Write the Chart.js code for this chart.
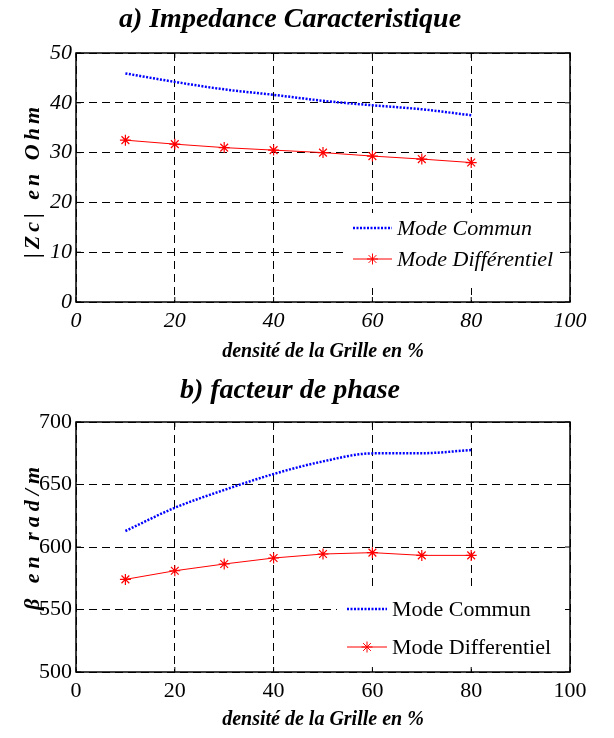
<!DOCTYPE html>
<html>
<head>
<meta charset="utf-8">
<script src="https://cdn.jsdelivr.net/npm/chart.js@4/dist/chart.umd.min.js"></script>
<style>
  body { margin: 0; background: #fff; }
  .box { position: absolute; left: 0; width: 614px; height: 369px; }
</style>
</head>
<body>
<div class="box" style="top:0"><canvas id="chartZc" width="614" height="369"></canvas></div>
<div class="box" style="top:369px"><canvas id="chartBeta" width="614" height="369"></canvas></div>
<script>
const densite = [10, 20, 30, 40, 50, 60, 70, 80];
const zcCommun = [45.9, 44.2, 42.7, 41.6, 40.4, 39.5, 38.7, 37.5];
const zcDiff = [32.5, 31.7, 31.0, 30.5, 30.0, 29.3, 28.7, 28.0];
const betaCommun = [612.8, 631.4, 645.6, 658.4, 668.5, 674.9, 675.0, 677.6];
const betaDiff = [574.1, 581.0, 586.4, 591.2, 594.4, 595.5, 593.3, 593.3];
const xTicks = [0, 20, 40, 60, 80, 100];
const zcTicks = [0, 10, 20, 30, 40, 50];
const betaTicks = [500, 550, 600, 650, 700];

const serif = "'Liberation Serif', 'Times New Roman', serif";

const toPoints = (ys) => densite.map((x, i) => ({ x: x, y: ys[i] }));

// frame, inward ticks, legend and rotated y label
const framePlugin = {
  id: 'frame',
  afterDraw(chart, args, opts) {
    const { ctx, chartArea: a, scales } = chart;
    const g = opts.legend;
    ctx.save();
    // legend
    ctx.fillStyle = '#fff';
    ctx.fillRect(a.right - g.boxL, a.bottom - g.boxT, g.boxL - g.boxR, g.boxT - g.boxB);
    chart.data.datasets.forEach((ds, i) => {
      const y = a.bottom - g.rows[i];
      const x0 = a.right - g.sampleL, x1 = a.right - g.sampleR;
      ctx.save();
      ctx.strokeStyle = ds.borderColor;
      ctx.lineWidth = ds.borderWidth;
      ctx.setLineDash(ds.borderDash || []);
      ctx.beginPath();
      ctx.moveTo(x0, y);
      ctx.lineTo(x1, y);
      ctx.stroke();
      ctx.restore();
      if (ds.pointRadius) {
        ctx.strokeStyle = ds.borderColor;
        ctx.fillStyle = ds.borderColor;
        ctx.lineWidth = 1;
        Chart.helpers.drawPoint(ctx, { pointStyle: ds.pointStyle, radius: ds.pointRadius, rotation: 0, borderWidth: 1 }, (x0 + x1) / 2, y);
      }
      ctx.fillStyle = '#000';
      ctx.font = g.font;
      ctx.textBaseline = 'middle';
      ctx.textAlign = 'left';
      ctx.fillText(ds.label, a.right - g.textX, y + 1);
    });
    // frame
    ctx.strokeStyle = '#000';
    ctx.lineWidth = 1.5;
    ctx.strokeRect(a.left, a.top, a.right - a.left, a.bottom - a.top);
    ctx.lineWidth = 1;
    scales.x.ticks.forEach(t => {
      const px = scales.x.getPixelForValue(t.value);
      ctx.beginPath();
      ctx.moveTo(px, a.bottom); ctx.lineTo(px, a.bottom - 5);
      ctx.moveTo(px, a.top); ctx.lineTo(px, a.top + 5);
      ctx.stroke();
    });
    scales.y.ticks.forEach(t => {
      const py = scales.y.getPixelForValue(t.value);
      ctx.beginPath();
      ctx.moveTo(a.left, py); ctx.lineTo(a.left + 5, py);
      ctx.moveTo(a.right, py); ctx.lineTo(a.right - 5, py);
      ctx.stroke();
    });
    // y axis label
    ctx.translate(opts.yLabelX, (a.top + a.bottom) / 2 + opts.yLabelShift);
    ctx.rotate(-Math.PI / 2);
    ctx.font = 'italic bold 22px ' + serif;
    ctx.letterSpacing = opts.spacing;
    ctx.textAlign = 'center';
    ctx.textBaseline = 'middle';
    ctx.fillStyle = '#000';
    ctx.fillText(opts.yLabel, 0, 0);
    ctx.restore();
  }
};

function makeChart(id, cfg) {
  return new Chart(document.getElementById(id), {
    type: 'line',
    data: {
      datasets: [{
        label: 'Mode Commun',
        data: toPoints(cfg.commun),
        borderColor: '#0000ff',
        borderWidth: 2.5,
        borderDash: [2, 1.5],
        pointRadius: 0,
        cubicInterpolationMode: 'monotone'
      }, {
        label: cfg.diffLabel,
        data: toPoints(cfg.diff),
        borderColor: '#ff0000',
        backgroundColor: '#ff0000',
        borderWidth: 1,
        pointStyle: 'star',
        pointRadius: 5.5,
        pointBorderWidth: 1.2
      }]
    },
    options: {
      responsive: false,
      animation: false,
      layout: { padding: { left: 10, right: 44, top: 0, bottom: 0 } },
      plugins: {
        legend: { display: false },
        tooltip: { enabled: false },
        title: {
          display: true,
          text: cfg.title,
          color: '#000',
          font: { family: serif, size: 28, style: 'italic', weight: 'bold' },
          padding: cfg.titlePad
        },
        frame: {
          legend: cfg.legend,
          yLabel: cfg.yLabel,
          yLabelX: 33,
          yLabelShift: cfg.yLabelShift,
          spacing: cfg.spacing
        }
      },
      scales: {
        x: {
          type: 'linear',
          min: 0,
          max: 100,
          afterBuildTicks: s => { s.ticks = xTicks.map(v => ({ value: v })); },
          afterFit: s => { s.height = cfg.xHeight; },
          ticks: {
            color: '#000',
            padding: 6,
            font: { family: serif, size: 22, style: cfg.tickStyle }
          },
          grid: { color: '#000', lineWidth: 1, drawTicks: false },
          border: { display: false, dash: [8, 5] },
          title: {
            display: true,
            text: 'densité de la Grille en %',
            color: '#000',
            font: { family: serif, size: 20, style: 'italic', weight: 'bold' },
            padding: { top: 0, bottom: cfg.xTitlePad }
          }
        },
        y: {
          min: cfg.yTicks[0],
          max: cfg.yTicks[cfg.yTicks.length - 1],
          afterBuildTicks: s => { s.ticks = cfg.yTicks.map(v => ({ value: v })); },
          afterFit: s => { s.width = 66; },
          ticks: {
            color: '#000',
            padding: 4,
            font: { family: serif, size: 22, style: cfg.tickStyle }
          },
          grid: { color: '#000', lineWidth: 1, drawTicks: false },
          border: { display: false, dash: [8, 5] }
        }
      }
    },
    plugins: [framePlugin]
  });
}

makeChart('chartZc', {
  title: 'a) Impedance Caracteristique',
  titlePad: { top: 3, bottom: 16.4 },
  commun: zcCommun,
  diff: zcDiff,
  diffLabel: 'Mode Différentiel',
  yTicks: zcTicks,
  tickStyle: 'italic',
  xHeight: 67,
  xTitlePad: 5,
  yLabel: '|Zc| en Ohm',
  yLabelShift: 3,
  spacing: '4px',
  legend: {
    boxL: 227, boxR: 10, boxT: 89, boxB: 14,
    rows: [74, 43],
    sampleL: 217, sampleR: 178, textX: 173,
    font: 'italic 22px ' + serif
  }
});

makeChart('chartBeta', {
  title: 'b) facteur de phase',
  titlePad: { top: 5, bottom: 14.4 },
  commun: betaCommun,
  diff: betaDiff,
  diffLabel: 'Mode Differentiel',
  yTicks: betaTicks,
  tickStyle: 'normal',
  xHeight: 66,
  xTitlePad: 6,
  yLabel: 'β en rad/m',
  yLabelShift: -11,
  spacing: '5px',
  legend: {
    boxL: 233, boxR: 5, boxT: 82, boxB: 4,
    rows: [63, 25],
    sampleL: 223, sampleR: 183, textX: 178,
    font: '22px ' + serif
  }
});
</script>
</body>
</html>
